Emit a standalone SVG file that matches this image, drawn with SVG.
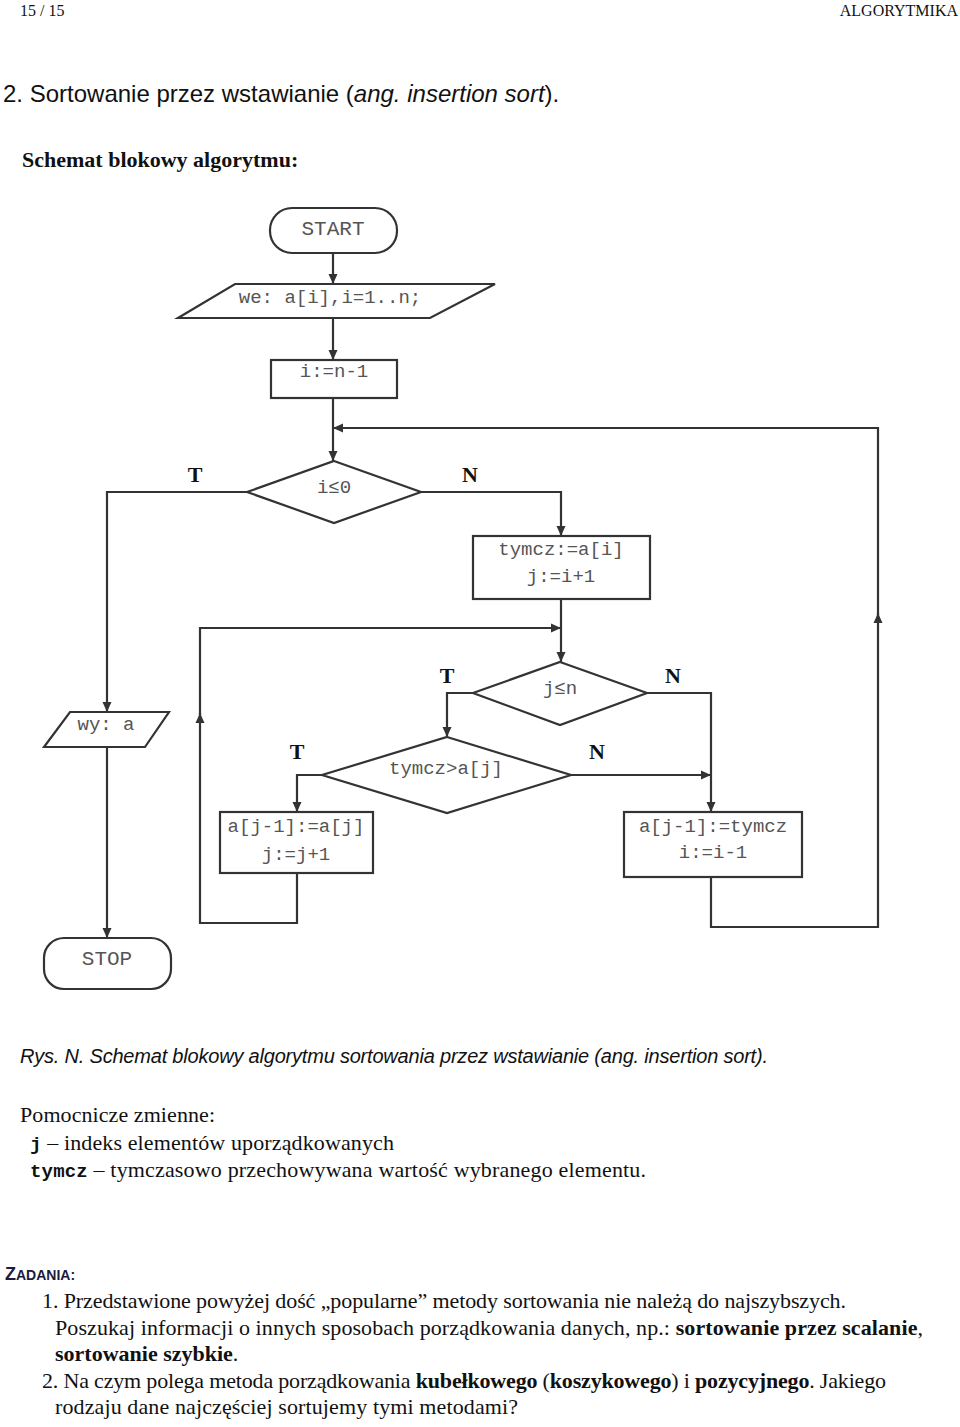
<svg xmlns="http://www.w3.org/2000/svg" width="960" height="1427" viewBox="0 0 960 1427">
<style>
.shape{fill:#fff;stroke:#333;stroke-width:2.2}
.conn{fill:none;stroke:#333;stroke-width:2.2}
.mono{font-family:"Liberation Mono","Courier New",monospace;font-size:19px;fill:#555;text-anchor:middle}
.term{font-family:"Liberation Mono","Courier New",monospace;font-size:21px;fill:#555;text-anchor:middle}
.lbl{font-family:"Liberation Serif","Times New Roman",serif;font-size:22px;font-weight:bold;fill:#111;text-anchor:middle}
.serif{font-family:"Liberation Serif","Times New Roman",serif;font-size:22px;fill:#111}
.b{font-weight:bold}
.bm{font-family:"Liberation Mono","Courier New",monospace;font-size:19px;font-weight:bold}
</style>
<defs>
<marker id="arr" viewBox="0 0 10 10" refX="10" refY="5" markerWidth="11" markerHeight="10" markerUnits="userSpaceOnUse" orient="auto">
<path d="M0,0.5 L10,5 L0,9.5 z" fill="#333"/>
</marker>
</defs>
<rect width="960" height="1427" fill="#fff"/>

<!-- page header -->
<text x="20" y="16" font-family="Liberation Serif, serif" font-size="16" fill="#111">15 / 15</text>
<text x="958" y="16" font-family="Liberation Serif, serif" font-size="16" fill="#111" text-anchor="end">ALGORYTMIKA</text>
<text x="3" y="102" font-family="Liberation Sans, Arial, sans-serif" font-size="24" fill="#111">2. Sortowanie przez wstawianie (<tspan font-style="italic">ang. insertion sort</tspan>).</text>
<text x="22" y="167" font-family="Liberation Serif, serif" font-size="22" font-weight="bold" fill="#111">Schemat blokowy algorytmu:</text>

<!-- connectors -->
<g id="connectors" class="conn">
<path d="M333,253 V284" marker-end="url(#arr)"/>
<path d="M333,318 V360" marker-end="url(#arr)"/>
<path d="M333,398 V461" marker-end="url(#arr)"/>
<path d="M247,492 H107 V712" marker-end="url(#arr)"/>
<path d="M107,747 V938" marker-end="url(#arr)"/>
<path d="M421,492 H561 V536" marker-end="url(#arr)"/>
<path d="M561,599 V662" marker-end="url(#arr)"/>
<path d="M473,693 H447 V737" marker-end="url(#arr)"/>
<path d="M647,693 H711 V812" marker-end="url(#arr)"/>
<path d="M571,775 H711" marker-end="url(#arr)"/>
<path d="M322,775 H297 V812" marker-end="url(#arr)"/>
<path d="M297,873 V923 H200 V713" marker-end="url(#arr)"/>
<path d="M200,715 V628 H561" marker-end="url(#arr)"/>
<path d="M711,877 V927 H878 V613" marker-end="url(#arr)"/>
<path d="M878,615 V428 H333" marker-end="url(#arr)"/>
</g>

<!-- flow labels -->
<g id="labels">
<text class="lbl" x="195" y="482">T</text>
<text class="lbl" x="470" y="482">N</text>
<text class="lbl" x="447" y="683">T</text>
<text class="lbl" x="673" y="683">N</text>
<text class="lbl" x="297" y="759">T</text>
<text class="lbl" x="597" y="759">N</text>
</g>

<g id="start">
<rect class="shape" x="270" y="208" width="127" height="45" rx="22" ry="22"/>
<text class="term" x="333" y="235">START</text>
</g>
<g id="input">
<polygon class="shape" points="235,284 495,284 430,318 178,318"/>
<text class="mono" x="330" y="303">we: a[i],i=1..n;</text>
</g>
<g id="init">
<rect class="shape" x="271" y="360" width="126" height="38"/>
<text class="mono" x="334" y="377">i:=n-1</text>
</g>
<g id="cond-i">
<polygon class="shape" points="334,461 421,492 334,523 247,492"/>
<text class="mono" x="334" y="493">i≤0</text>
</g>
<g id="assign-tymcz">
<rect class="shape" x="473" y="536" width="177" height="63"/>
<text class="mono" x="561" y="555">tymcz:=a[i]</text>
<text class="mono" x="561" y="582">j:=i+1</text>
</g>
<g id="cond-j">
<polygon class="shape" points="560,662 647,693 560,725 473,693"/>
<text class="mono" x="560" y="694">j≤n</text>
</g>
<g id="cond-cmp">
<polygon class="shape" points="447,737 571,775 447,813 322,775"/>
<text class="mono" x="446" y="774">tymcz&gt;a[j]</text>
</g>
<g id="shift">
<rect class="shape" x="220" y="812" width="153" height="61"/>
<text class="mono" x="296" y="832">a[j-1]:=a[j]</text>
<text class="mono" x="296" y="860">j:=j+1</text>
</g>
<g id="insert">
<rect class="shape" x="624" y="812" width="178" height="65"/>
<text class="mono" x="713" y="832">a[j-1]:=tymcz</text>
<text class="mono" x="713" y="858">i:=i-1</text>
</g>
<g id="output">
<polygon class="shape" points="70,712 169,712 145,747 44,747"/>
<text class="mono" x="106" y="730">wy: a</text>
</g>
<g id="stop">
<rect class="shape" x="44" y="938" width="127" height="51" rx="20" ry="20"/>
<text class="term" x="107" y="965">STOP</text>
</g>

<!-- caption and notes -->
<text x="20" y="1063" font-family="Liberation Sans, Arial, sans-serif" font-size="20" font-style="italic" fill="#111" textLength="748">Rys. N. Schemat blokowy algorytmu sortowania przez wstawianie (ang. insertion sort).</text>
<text class="serif" x="20" y="1122" textLength="195">Pomocnicze zmienne:</text>
<text class="serif" x="30" y="1150" textLength="364"><tspan class="bm">j</tspan> – indeks elementów uporządkowanych</text>
<text class="serif" x="30" y="1177" textLength="616"><tspan class="bm">tymcz</tspan> – tymczasowo przechowywana wartość wybranego elementu.</text>

<text x="5" y="1280" font-family="Liberation Sans, Arial, sans-serif" font-weight="bold" fill="#1b1b3a"><tspan font-size="18">Z</tspan><tspan font-size="14">ADANIA:</tspan></text>
<text class="serif" x="42" y="1308" textLength="804">1. Przedstawione powyżej dość „popularne” metody sortowania nie należą do najszybszych.</text>
<text class="serif" x="55" y="1335" textLength="868">Poszukaj informacji o innych sposobach porządkowania danych, np.: <tspan class="b">sortowanie przez scalanie</tspan>,</text>
<text class="serif" x="55" y="1361"><tspan class="b">sortowanie szybkie</tspan>.</text>
<text class="serif" x="42" y="1388" textLength="844">2. Na czym polega metoda porządkowania <tspan class="b">kubełkowego</tspan> (<tspan class="b">koszykowego</tspan>) i <tspan class="b">pozycyjnego</tspan>. Jakiego</text>
<text class="serif" x="55" y="1414" textLength="463">rodzaju dane najczęściej sortujemy tymi metodami?</text>
</svg>
